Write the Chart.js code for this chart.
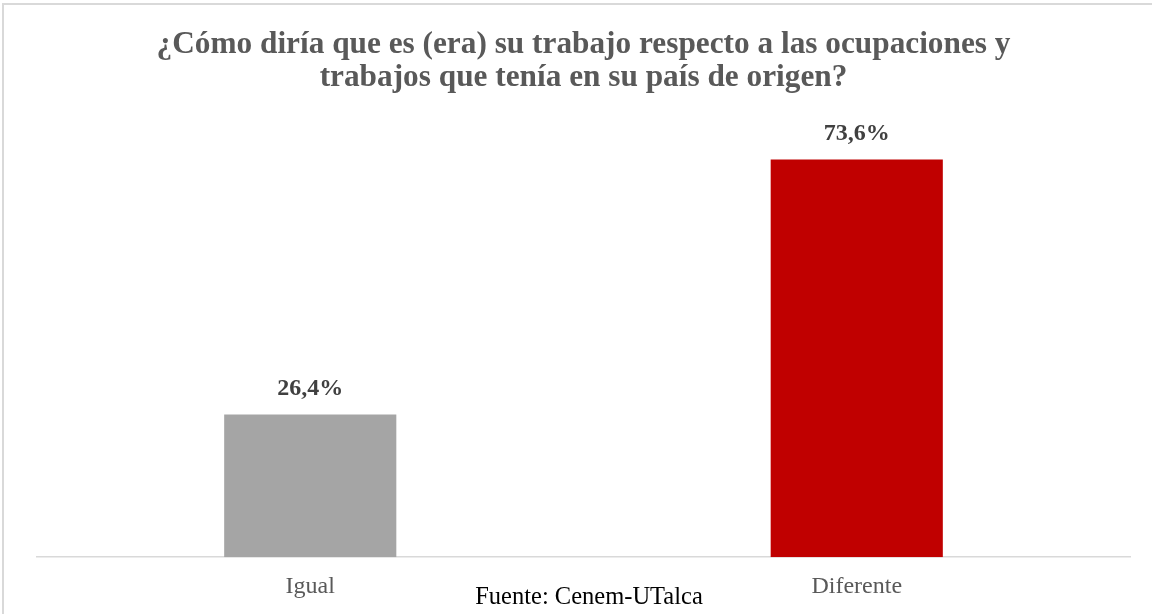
<!DOCTYPE html>
<html>
<head>
<meta charset="utf-8">
<script src="https://cdn.jsdelivr.net/npm/chart.js@4/dist/chart.umd.min.js"></script>
<style>
  html, body { margin: 0; padding: 0; background: #fff; overflow: hidden; }
  #wrap { position: relative; width: 1152px; height: 614px; }
  #frame { position: absolute; left: 2px; top: 3px; width: 1160px; height: 640px; border-left: 2px solid #d9d9d9; border-top: 2px solid #d9d9d9; box-sizing: border-box; }
  canvas { position: absolute; left: 0; top: 0; }
  #source { position: absolute; left: 0; width: 1178px; top: 581px; height: 30px; line-height: 30px; text-align: center; font-family: "Liberation Serif", serif; font-size: 24.5px; color: #000; white-space: nowrap; }
</style>
</head>
<body>
<div id="wrap">
  <div id="frame"></div>
  <canvas id="c" width="1152" height="614"></canvas>
  <div id="source">Fuente: Cenem-UTalca</div>
</div>
<script>
const titleLines = ["¿Cómo diría que es (era) su trabajo respecto a las ocupaciones y", "trabajos que tenía en su país de origen?"];
const categories = ["Igual", "Diferente"];
const values = [26.4, 73.6];
const barColors = ["#a5a5a5", "#c00000"];

const labelPlugin = {
  id: 'valueLabels',
  afterDatasetsDraw(chart) {
    const ctx = chart.ctx;
    const meta = chart.getDatasetMeta(0);
    ctx.save();
    ctx.font = 'bold 24px "Liberation Serif", serif';
    ctx.fillStyle = '#404040';
    ctx.textAlign = 'center';
    ctx.textBaseline = 'middle';
    meta.data.forEach((bar, i) => {
      const txt = values[i].toFixed(1).replace('.', ',') + '%';
      ctx.fillText(txt, bar.x, bar.y - 25.5);
    });
    ctx.restore();
  }
};

new Chart(document.getElementById('c'), {
  type: 'bar',
  data: {
    labels: categories,
    datasets: [{ data: values, backgroundColor: barColors, categoryPercentage: 1, barPercentage: 0.315 }]
  },
  plugins: [labelPlugin],
  options: {
    responsive: false,
    animation: false,
    layout: { padding: { left: 37, right: 22, top: 0, bottom: 6 } },
    plugins: {
      legend: { display: false },
      tooltip: { enabled: false },
      title: {
        display: true,
        text: titleLines,
        color: '#595959',
        font: { family: '"Liberation Serif", serif', size: 31.3, weight: 'bold', lineHeight: 1.055 },
        padding: { top: 28, bottom: 31 }
      }
    },
    scales: {
      x: {
        grid: { display: false },
        border: { color: '#d9d9d9', width: 1.5 },
        ticks: { color: '#595959', font: { family: '"Liberation Serif", serif', size: 24 }, padding: 7 }
      },
      y: {
        display: false,
        min: 0,
        max: 80
      }
    }
  }
});
</script>
</body>
</html>
